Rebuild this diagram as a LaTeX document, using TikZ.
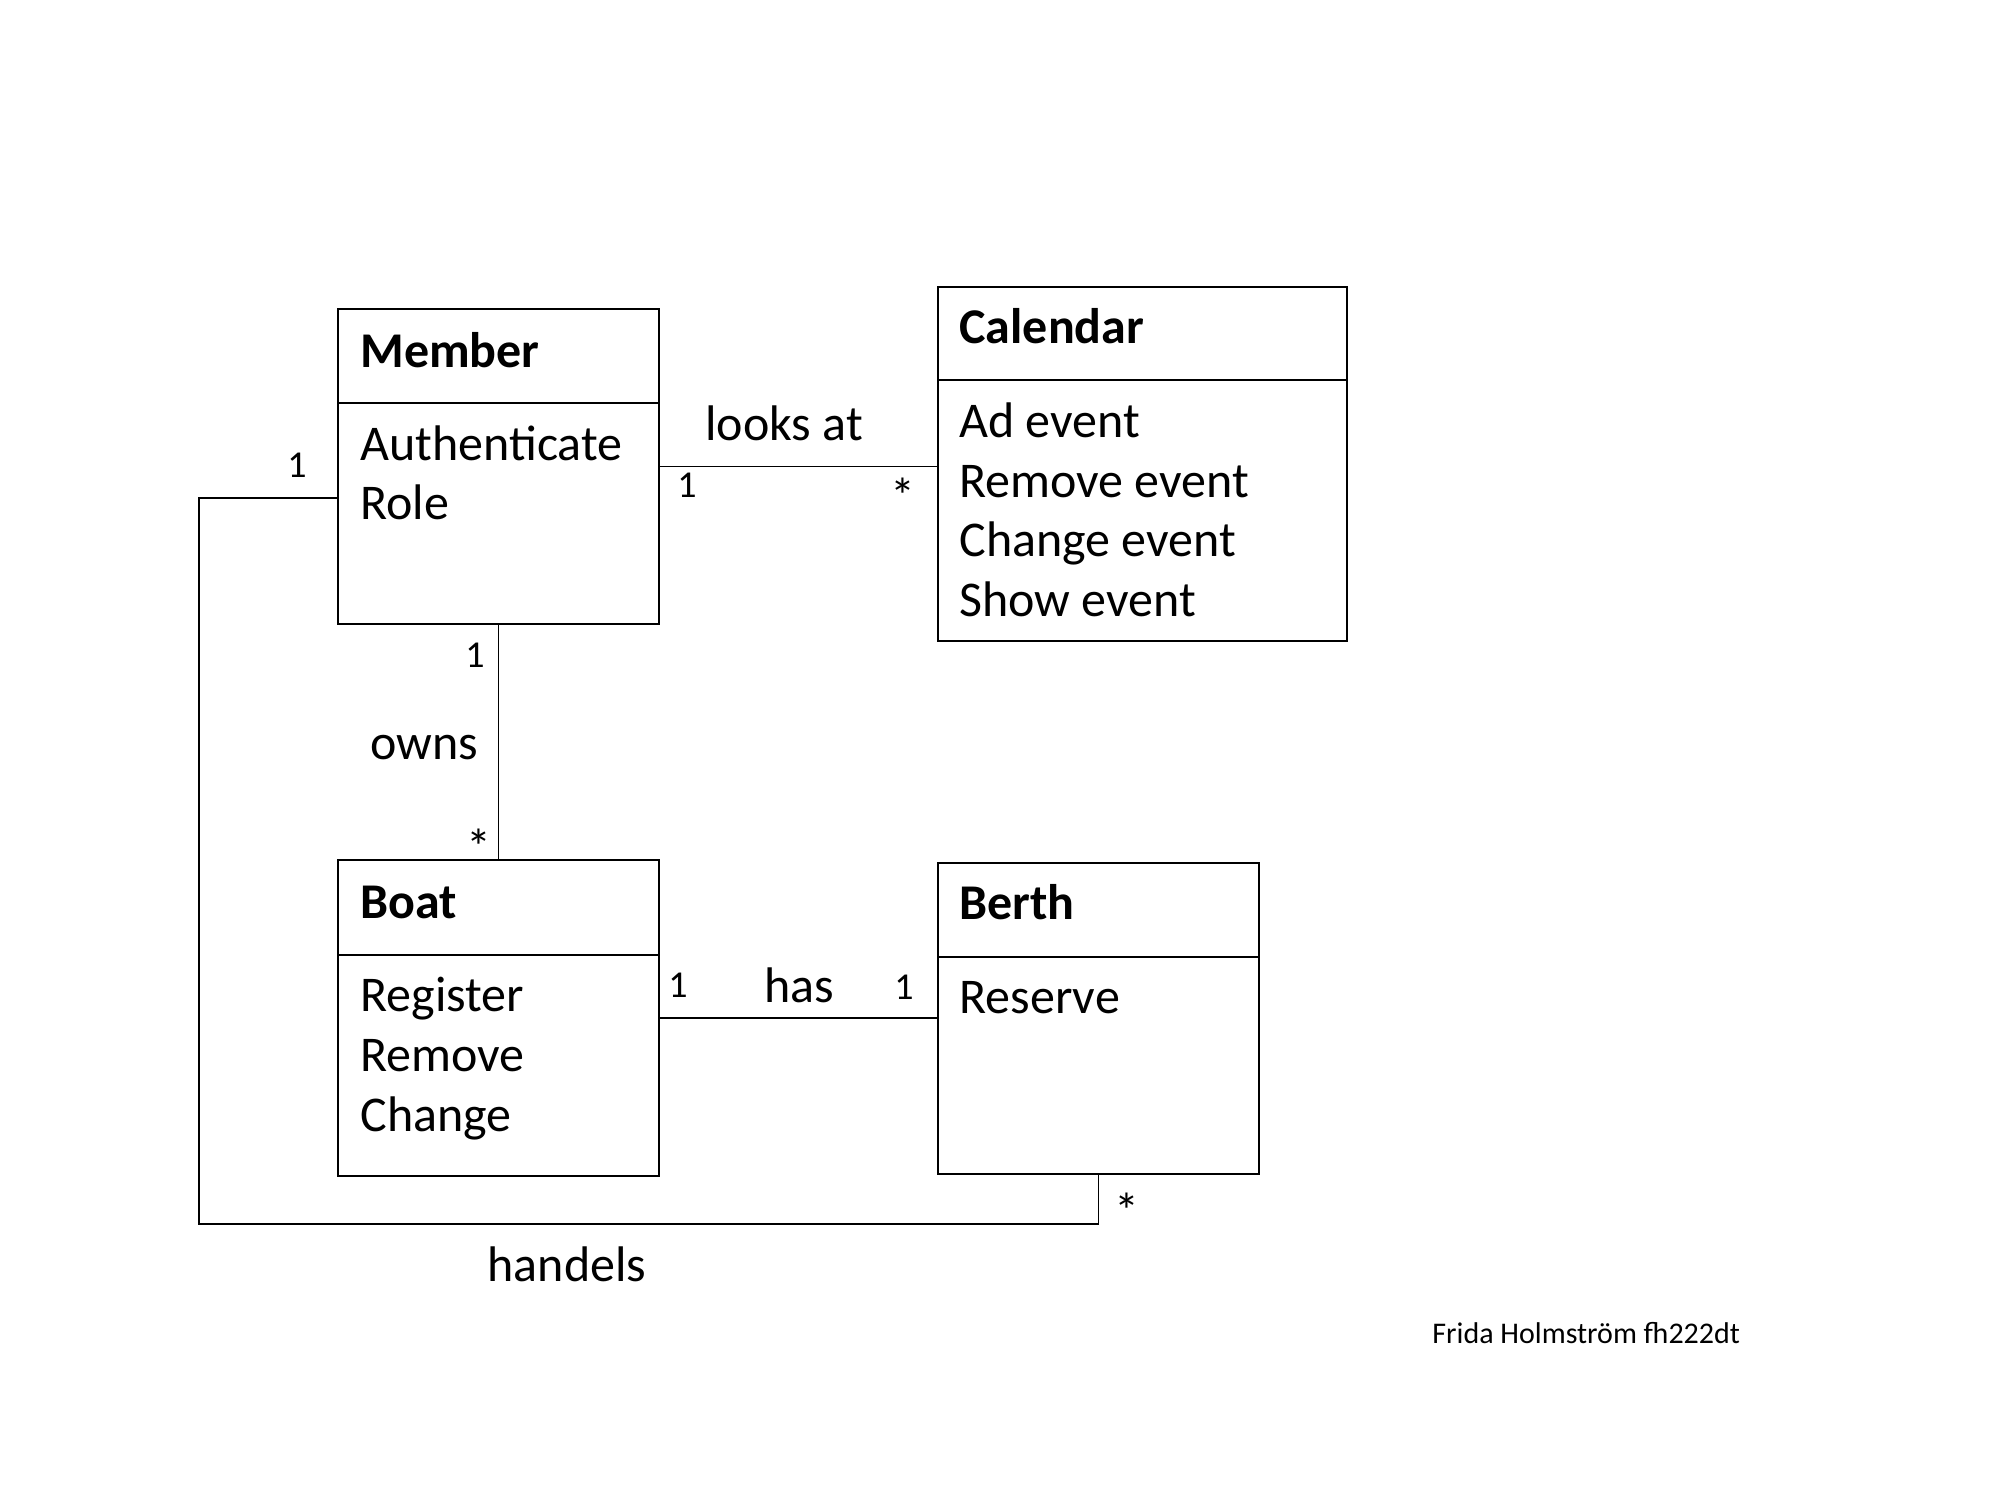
\documentclass[tikz,border=0pt]{standalone}
\usepackage{fontspec}
\setmainfont{Carlito}
\begin{document}
\begin{tikzpicture}[x=0.5pt,y=-0.5pt,
  classbox/.style={draw, line width=1.4pt, anchor=north west, inner sep=0pt, outer sep=0pt},
  divider/.style={line width=1.4pt},
  conn/.style={line width=0.9pt},
  ctitle/.style={anchor=base west, inner sep=0pt, font=\fontsize{25}{30}\selectfont\bfseries},
  citem/.style={anchor=base west, inner sep=0pt, font=\fontsize{25}{30}\selectfont},
  mult/.style={anchor=base, inner sep=0pt, font=\fontsize{19}{22}\selectfont},
  star/.style={anchor=base, inner sep=0pt, font=\fontsize{25}{28}\selectfont},
  assoc/.style={anchor=base, inner sep=0pt, font=\fontsize{25}{30}\selectfont}]
\useasboundingbox (0,0) rectangle (2000,1500);
\fill[white] (0,0) rectangle (2000,1500);

% classes
\node[classbox, minimum width=160.5pt, minimum height=157.5pt] (member) at (338,309) {};
\node[classbox, minimum width=204.5pt, minimum height=177pt] (calendar) at (938,287) {};
\node[classbox, minimum width=160.5pt, minimum height=158pt] (boat) at (338,860) {};
\node[classbox, minimum width=160.5pt, minimum height=155.5pt] (berth) at (938,863) {};

% dividers
\draw[divider] (member.west |- 0,403) -- (member.east |- 0,403);
\draw[divider] (calendar.west |- 0,380) -- (calendar.east |- 0,380);
\draw[divider] (boat.west |- 0,955) -- (boat.east |- 0,955);
\draw[divider] (berth.west |- 0,957) -- (berth.east |- 0,957);

% member text
\node[ctitle] (memberT) at (360,367) {Member};
\node[citem] (memberA) at (360,460) {Authenticate};
\node[citem] (memberB) at (360,519) {Role};

% calendar text
\node[ctitle] (calT) at (959,343) {Calendar};
\node[citem] (calA) at (959,437) {Ad event};
\node[citem] (calB) at (959,497) {Remove event};
\node[citem] (calC) at (959,556) {Change event};
\node[citem] (calD) at (959,616) {Show event};

% boat text
\node[ctitle] (boatT) at (360,918) {Boat};
\node[citem] (boatA) at (360,1011) {Register};
\node[citem] (boatB) at (360,1071) {Remove};
\node[citem] (boatC) at (360,1131) {Change};

% berth text
\node[ctitle] (berthT) at (959,919) {Berth};
\node[citem] (berthA) at (959,1013) {Reserve};

% connectors
\draw[conn] (member.east) -- (member.east -| calendar.west);
\draw[conn] (member.south) -- (boat.north);
\draw[conn] (boat.east) -- (boat.east -| berth.west);
\coordinate (hA) at (199,498);
\coordinate (hB) at (199,1224);
\draw[conn] (member.west |- hA) -- (hA) -- (hB) -- (berth.south |- hB) -- (berth.south);

% association labels
\node[assoc] (lLooks) at (784,440) {looks at};
\node[assoc] (lOwns) at (424,759) {owns};
\node[assoc] (lHas) at (799,1002) {has};
\node[assoc] (lHandels) at (567,1281) {handels};

% multiplicities
\node[mult] (m1) at (297,477) {1};
\node[mult] (m2) at (687,497) {1};
\node[star] (m3) at (903,513) {*};
\node[mult] (m4) at (475,667) {1};
\node[star] (m5) at (479,864) {*};
\node[mult] (m6) at (678,997) {1};
\node[mult] (m7) at (904,999) {1};
\node[star] (m8) at (1127,1228) {*};

% author
\node[anchor=base west, inner sep=0pt, font=\fontsize{15}{18}\selectfont] (author) at (1432,1343) {Frida Holmström fh222dt};
\end{tikzpicture}
\end{document}
